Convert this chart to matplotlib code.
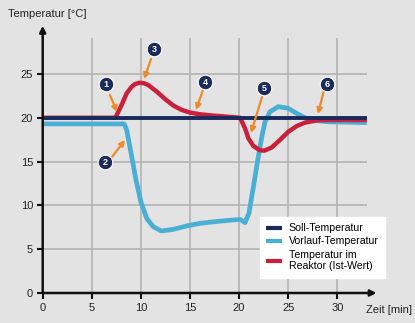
import matplotlib.pyplot as plt

# Soll-Temperatur (setpoint)
soll_x = [0, 33.0]
soll_y = [20, 20]

# Vorlauf-Temperatur (flow temperature)
vorlauf_x = [0, 8.3, 8.55, 9.06, 9.5, 10.0, 10.6, 11.26, 12.1, 13.3, 14.66,
             16.0, 18.0, 20.1, 20.6, 21.0, 21.45, 21.9, 22.3, 22.64, 23.15,
             24.0, 25.0, 25.87, 26.7, 27.56, 28.9, 33.0]
vorlauf_y = [19.3, 19.3, 18.6, 15.6, 12.9, 10.4, 8.5, 7.57, 7.08, 7.27, 7.65,
             7.95, 8.2, 8.4, 8.03, 9.1, 12.1, 15.2, 17.8, 19.55, 20.7,
             21.27, 21.08, 20.5, 20.0, 19.75, 19.55, 19.45]

# Temperatur im Reaktor (Ist-Wert)
reaktor_x = [0, 7.4, 8.05, 8.55, 9.06, 9.4, 9.84, 10.3, 10.75, 11.6, 12.45,
             13.3, 14.15, 15.0, 16.0, 17.35, 18.5, 20.1, 20.6, 20.94, 21.45,
             22.1, 22.57, 23.3, 24.16, 25.0, 25.87, 26.7, 27.9, 29.0, 33.0]
reaktor_y = [20, 20, 21.5, 22.8, 23.55, 23.85, 24.0, 23.95, 23.74, 23.0, 22.15,
             21.4, 20.9, 20.6, 20.4, 20.25, 20.15, 20.0, 18.8, 17.66, 16.78,
             16.3, 16.25, 16.6, 17.47, 18.4, 19.06, 19.45, 19.7, 19.75, 19.75]

x_ticks = [0, 5, 10, 15, 20, 25, 30]
y_ticks = [0, 5, 10, 15, 20, 25]

# numbered callouts: (label, circle x, circle y, arrow start, arrow end)
callouts = [
    ("1", 6.45, 23.86, (6.85, 22.6), (7.57, 20.66)),
    ("2", 6.34, 14.95, (7.06, 15.53), (8.38, 17.47)),
    ("3", 11.33, 27.85, (11.03, 26.71), (10.32, 24.43)),
    ("4", 16.53, 24.09, (16.32, 23.17), (15.61, 20.89)),
    ("5", 22.54, 23.4, (22.33, 22.37), (21.21, 18.26)),
    ("6", 28.95, 23.86, (28.65, 23.17), (28.03, 20.43)),
]

bg = '#e3e3e3'
navy = '#1b2a5c'
cyan = '#4aafd5'
red = '#c9213b'
orange = '#ee8a2a'
grid_col = '#b3b3b3'

plt.rcParams['font.family'] = ['Liberation Sans', 'DejaVu Sans']

fig = plt.figure(figsize=(4.15, 3.23), dpi=100, facecolor=bg)
ax = fig.add_axes([0.1029, 0.0929, 0.8046, 0.8272], facecolor=bg)
ax.set_xlim(0, 34)
ax.set_ylim(0, 30.5)
for s in ax.spines.values():
    s.set_visible(False)

# grid
ax.vlines(x_ticks[1:], 0, 29.1, colors=grid_col, linewidth=1.2, zorder=1)
ax.hlines(y_ticks[1:], 0, 33.0, colors=grid_col, linewidth=1.2, zorder=1)

# axes with arrows
ax.annotate('', xy=(34.0, 0), xytext=(0, 0), annotation_clip=False,
            arrowprops=dict(arrowstyle='-|>', color='#111111', lw=1.8,
                            mutation_scale=9, shrinkA=0, shrinkB=0), zorder=6)
ax.annotate('', xy=(0, 30.5), xytext=(0, 0), annotation_clip=False,
            arrowprops=dict(arrowstyle='-|>', color='#111111', lw=1.8,
                            mutation_scale=9, shrinkA=0, shrinkB=0), zorder=6)

ax.set_xticks(x_ticks)
ax.set_yticks(y_ticks)
ax.tick_params(direction='out', length=4, width=1.5, color='#111111',
               labelsize=8, labelcolor='#222222', pad=3)

ax.plot(reaktor_x, reaktor_y, color=red, lw=3.2, zorder=3,
        solid_capstyle='butt', label='Temperatur im\nReaktor (Ist-Wert)')
ax.plot(soll_x, soll_y, color=navy, lw=2.8, zorder=4,
        solid_capstyle='butt', label='Soll-Temperatur')
ax.plot(vorlauf_x, vorlauf_y, color=cyan, lw=3.4, zorder=2,
        solid_capstyle='butt', label='Vorlauf-Temperatur')

for num, cx, cy, a0, a1 in callouts:
    ax.annotate('', xy=a1, xytext=a0,
                arrowprops=dict(arrowstyle='-|>', color=orange, lw=1.6,
                                mutation_scale=8, shrinkA=0, shrinkB=0),
                zorder=7)
    ax.plot(cx, cy, 'o', ms=10.5, color=navy, mec='white', mew=0.8,
            zorder=8, clip_on=False)
    ax.text(cx, cy - 0.05, num, color='white', fontsize=6.5,
            fontweight='bold', ha='center', va='center', zorder=9)

ax.text(32.9, -1.95, 'Zeit [min]', fontsize=8, color='#222222',
        ha='left', va='center', clip_on=False)
fig.text(8 / 415, 1 - 14 / 323, 'Temperatur [°C]', fontsize=8,
         color='#222222', ha='left', va='center')

h, l = ax.get_legend_handles_labels()
order = [1, 2, 0]
leg = ax.legend([h[i] for i in order], [l[i] for i in order],
                loc='upper left', bbox_to_anchor=(260 / 415, 1 - 217 / 323),
                bbox_transform=fig.transFigure, borderaxespad=0,
                fontsize=7.6, handlelength=1.5, handletextpad=0.6,
                labelspacing=0.3, borderpad=0.6, fancybox=False,
                framealpha=1, edgecolor='white', facecolor='white')
leg.set_zorder(10)
for line in leg.get_lines():
    line.set_linewidth(3)

fig.savefig('out.png', dpi=100, facecolor=bg)
